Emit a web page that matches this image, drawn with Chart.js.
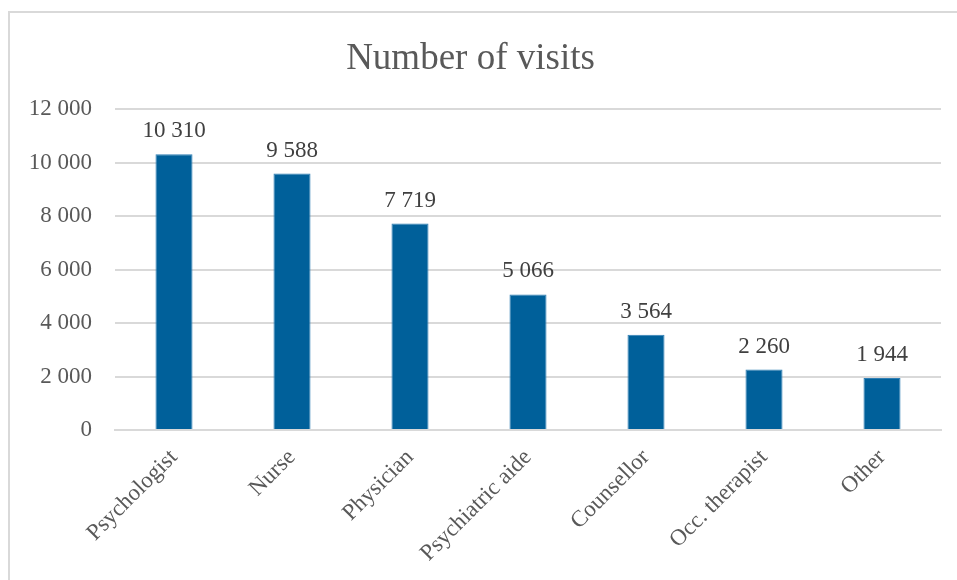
<!DOCTYPE html>
<html>
<head>
<meta charset="utf-8">
<script src="https://cdn.jsdelivr.net/npm/chart.js@4/dist/chart.umd.min.js"></script>
<style>
  html, body { margin: 0; padding: 0; background: #fff; overflow: hidden; width: 957px; height: 580px; }
  #frame { position: absolute; left: 8px; top: 11px; width: 949px; height: 569px;
           border-top: 2px solid #d9d9d9; border-left: 2px solid #d9d9d9; box-sizing: border-box; }
  #wrap { position: absolute; left: 0; top: 0; width: 957px; height: 580px; }
</style>
</head>
<body>
<div id="frame"></div>
<div id="wrap"><canvas id="chart" width="957" height="580"></canvas></div>
<script>
// ─── DATA ───
const categories = ['Psychologist', 'Nurse', 'Physician', 'Psychiatric aide', 'Counsellor', 'Occ. therapist', 'Other'];
const visits = [10310, 9588, 7719, 5066, 3564, 2260, 1944];
const yTicks = [0, 2000, 4000, 6000, 8000, 10000, 12000];

const SERIF = '"Liberation Serif", "Times New Roman", serif';

function fmt(n) {
    return String(n).replace(/\B(?=(\d{3})+(?!\d))/g, ' ');
}

// values above bars
const valueLabels = {
    id: 'valueLabels',
    afterDatasetsDraw(chart) {
        const ctx = chart.ctx;
        const meta = chart.getDatasetMeta(0);
        ctx.save();
        ctx.fillStyle = '#404040';
        ctx.font = '23px ' + SERIF;
        ctx.textAlign = 'center';
        ctx.textBaseline = 'alphabetic';
        meta.data.forEach((bar, i) => {
            ctx.fillText(fmt(chart.data.datasets[0].data[i]), bar.x, bar.y - 17);
        });
        ctx.restore();
    }
};

new Chart(document.getElementById('chart'), {
    type: 'bar',
    data: {
        labels: categories,
        datasets: [{
            data: visits,
            backgroundColor: '#00609a',
            borderColor: '#2f7fb5',
            borderWidth: 1,
            barPercentage: 0.314,
            categoryPercentage: 1
        }]
    },
    options: {
        responsive: false,
        animation: false,
        layout: { padding: { left: 0, right: 16, top: 0, bottom: 0 } },
        plugins: {
            legend: { display: false },
            tooltip: { enabled: false },
            title: {
                display: true,
                text: 'Number of visits',
                color: '#595959',
                font: { family: SERIF, size: 37, weight: 'normal' },
                padding: { top: 37, bottom: 27.6 }
            }
        },
        scales: {
            x: {
                grid: { display: false },
                border: { display: true, color: '#d9d9d9', width: 2 },
                ticks: {
                    color: '#595959',
                    font: { family: SERIF, size: 23 },
                    minRotation: 45,
                    maxRotation: 45,
                    padding: 6
                },
                afterFit(scale) { scale.height = 150; }
            },
            y: {
                min: 0,
                max: 12000,
                afterBuildTicks(scale) { scale.ticks = yTicks.map(v => ({ value: v })); },
                grid: { color: '#d9d9d9', lineWidth: 2, drawTicks: false },
                border: { display: false },
                ticks: {
                    color: '#595959',
                    font: { family: SERIF, size: 23 },
                    padding: 23,
                    callback: v => fmt(v)
                },
                afterFit(scale) { scale.width = 115; }
            }
        }
    },
    plugins: [valueLabels]
});
</script>
</body>
</html>
